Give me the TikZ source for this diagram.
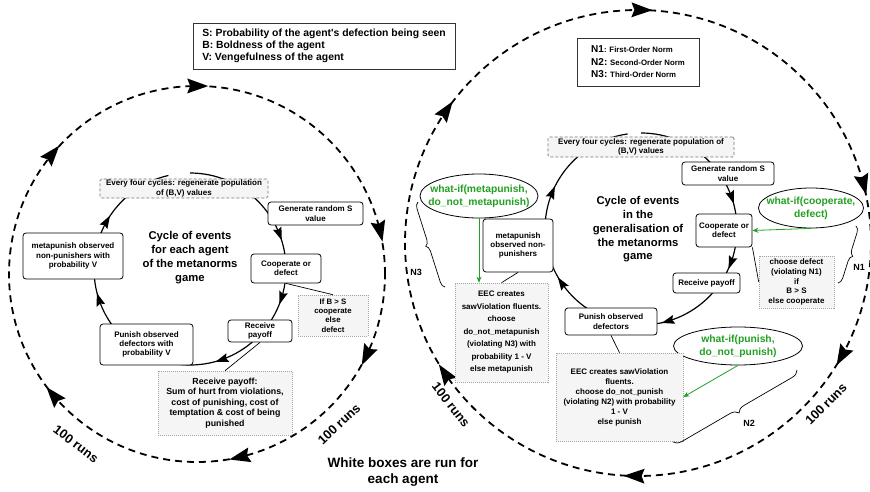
\documentclass[tikz,border=0pt]{standalone}
\usepackage{fontspec}
\setmainfont{Liberation Sans}
\usetikzlibrary{shapes.geometric, arrows.meta, decorations.markings, decorations.pathreplacing}

\definecolor{wgreen}{RGB}{34,160,34}
\definecolor{boxfill}{RGB}{245,245,245}
\definecolor{dotgray}{RGB}{165,165,165}

\newcommand{\fsz}[2]{\fontsize{#1}{#2}\selectfont}
\newcommand{\bigArrowTip}{\fill[black] (10pt,0pt) -- (-11pt,7.5pt) -- (-8pt,0pt) -- (-11pt,-7.5pt) -- cycle;}
\newcommand{\smallArrowTip}{\fill[black] (6pt,0pt) -- (-7pt,4.5pt) -- (-5pt,0pt) -- (-7pt,-4.5pt) -- cycle;}

\tikzset{
  boxfont/.style={font=\fsz{8}{9.4}\bfseries},
  wbox/.style={draw=black, line width=0.8pt, rounded corners=3pt, fill=white, align=center, inner sep=1pt, boxfont},
  gbox/.style={draw=dotgray, line width=0.6pt, dash pattern=on 1pt off 1pt, fill=boxfill, align=center, inner sep=1pt, boxfont},
  ebox/.style={draw=black!55, line width=0.7pt, dash pattern=on 3pt off 2pt, fill=boxfill, rounded corners=1.5pt, align=center, inner sep=1pt, boxfont},
  wif/.style={ellipse, draw=black, line width=0.8pt, fill=white, inner sep=0pt},
  wiftext/.style={text=wgreen, align=center, inner sep=0pt, font=\fsz{10.3}{12.7}\bfseries},
  legendbox/.style={draw=black!80, line width=0.8pt, fill=white, align=left, inner sep=0pt},
  bigcirc/.style={line width=1.8pt, dash pattern=on 7pt off 5pt},
  cycpath/.style={line width=1.2pt},
  runs/.style={font=\fsz{12.8}{14}\bfseries, inner sep=0pt},
  cycletitle/.style={font=\fsz{11.3}{14}\bfseries, align=center, inner sep=0pt},
  conn/.style={line width=0.7pt},
  garrow/.style={draw=wgreen, line width=0.8pt, -{Stealth[length=6pt,width=5pt]}},
  bracefmt/.style={decorate, decoration={brace, amplitude=#1}, line width=0.7pt},
  bracefmt/.default=6pt,
  nlabel/.style={font=\fsz{9}{10}\bfseries, inner sep=0pt},
}

\begin{document}
\begin{tikzpicture}[x=1pt,y=1pt]
\useasboundingbox (0,0) rectangle (870,-492);

% ---------- big dashed run circles ----------
\draw[bigcirc] (197,-274) circle[radius=188];
\path[decorate, decoration={markings,
  mark=at position 0.001 with {\bigArrowTip},
  mark=at position 0.214 with {\bigArrowTip},
  mark=at position 0.322 with {\bigArrowTip},
  mark=at position 0.464 with {\bigArrowTip},
  mark=at position 0.639 with {\bigArrowTip},
  mark=at position 0.861 with {\bigArrowTip}}]
  (197,-86) arc[start angle=90, delta angle=-360, radius=188];

\draw[bigcirc] (638,-243) circle[radius=233];
\path[decorate, decoration={markings,
  mark=at position 0.003 with {\bigArrowTip},
  mark=at position 0.210 with {\bigArrowTip},
  mark=at position 0.331 with {\bigArrowTip},
  mark=at position 0.503 with {\bigArrowTip},
  mark=at position 0.656 with {\bigArrowTip},
  mark=at position 0.847 with {\bigArrowTip}}]
  (638,-10) arc[start angle=90, delta angle=-360, radius=233];

% ---------- inner cycles ----------
\draw[cycpath] (190,-173) arc[start angle=90, delta angle=-347, radius=96];
\path[decorate, decoration={markings,
  mark=at position 0.199 with {\smallArrowTip},
  mark=at position 0.311 with {\smallArrowTip},
  mark=at position 0.464 with {\smallArrowTip},
  mark=at position 0.726 with {\smallArrowTip},
  mark=at position 0.865 with {\smallArrowTip}}]
  (190,-173) arc[start angle=90, delta angle=-347, radius=96];

\draw[cycpath] (641,-133) arc[start angle=90, delta angle=-352, radius=96];
\path[decorate, decoration={markings,
  mark=at position 0.202 with {\smallArrowTip},
  mark=at position 0.315 with {\smallArrowTip},
  mark=at position 0.466 with {\smallArrowTip},
  mark=at position 0.671 with {\smallArrowTip},
  mark=at position 0.832 with {\smallArrowTip}}]
  (641,-133) arc[start angle=90, delta angle=-352, radius=96];

% ---------- left diagram ----------
\node[legendbox, minimum width=262pt, minimum height=46pt, font=\fsz{10.4}{12}\bfseries] (legS) at (324,-46)
  {S: Probability of the agent\textquotesingle s defection being seen\\B: Boldness of the agent\\V: Vengefulness of the agent};

\node[ebox, minimum width=168pt, minimum height=17pt] (everyL) at (184,-188.5) {Every four cycles: regenerate population\\of (B,V) values};
\node[wbox, minimum width=95pt, minimum height=23pt] (genL) at (315.5,-213.5) {Generate random S\\value};
\node[wbox, minimum width=70pt, minimum height=29pt] (coopL) at (286,-268.5) {Cooperate or\\defect};
\node[gbox, minimum width=70pt, minimum height=41pt, font=\fsz{7.8}{9.2}\bfseries] (ifL) at (333,-315.5) {If B > S\\cooperate\\else\\defect};
\node[wbox, minimum width=64pt, minimum height=22pt] (recL) at (260,-331) {Receive\\payoff};
\node[wbox, minimum width=93pt, minimum height=41pt] (punL) at (146.5,-344.5) {Punish observed\\defectors with\\probability V};
\node[wbox, minimum width=100pt, minimum height=46pt] (metaL) at (73,-256) {metapunish observed\\non-punishers with\\probability V};
\node[gbox, minimum width=134pt, minimum height=64pt, font=\fsz{8.8}{10.5}\bfseries] (payL) at (225,-403)
  {Receive payoff:\\Sum of hurt from violations,\\cost of punishing, cost of\\temptation \& cost of being\\punished};
\node[cycletitle] (titL) at (190,-258) {Cycle of events\\for each agent\\of the metanorms\\game};

\draw[conn] (coopL.south) -- (ifL.north);
\draw[conn] (recL.south) -- (payL.north);

% ---------- right diagram ----------
\node[legendbox, minimum width=122pt, minimum height=48pt, font=\fsz{7.8}{12.5}\bfseries] (legN) at (638,-62)
  {{\fsz{10}{12.5}N1}: First-Order Norm\\{\fsz{10}{12.5}N2:} Second-Order Norm\\{\fsz{10}{12.5}N3:} Third-Order Norm};

\node[ebox, minimum width=186pt, minimum height=20pt] (everyR) at (641,-147) {Every four cycles: regenerate population of\\(B,V) values};
\node[wbox, minimum width=92pt, minimum height=23pt] (genR) at (728,-173.5) {Generate random S\\value};
\node[wbox, minimum width=56pt, minimum height=33pt] (coopR) at (724,-230.5) {Cooperate or\\defect};
\node[wif, minimum width=105pt, minimum height=40pt] (wcoop) at (811,-208) {};
\node[wiftext] (wcoopt) at (wcoop) {what-if(cooperate,\\defect)};
\node[gbox, minimum width=75pt, minimum height=52pt, font=\fsz{8}{9.7}\bfseries] (chdef) at (796.5,-282) {choose defect\\(violating N1)\\if\\B > S\\else cooperate};
\node[wbox, minimum width=67pt, minimum height=20pt] (recR) at (706.5,-283) {Receive payoff};
\node[wbox, minimum width=92pt, minimum height=27pt] (punR) at (611,-321.5) {Punish observed\\defectors};
\node[wif, minimum width=129pt, minimum height=38pt] (wpun) at (738,-346) {};
\node[wiftext] (wpunt) at (wpun) {what-if(punish,\\do\_not\_punish)};
\node[gbox, minimum width=127pt, minimum height=88pt, font=\fsz{8}{10}\bfseries] (eec2) at (619.5,-397)
  {EEC creates sawViolation\\fluents.\\choose do\_not\_punish\\(violating N2) with probability\\1 - V\\else punish};
\node[wbox, minimum width=70pt, minimum height=53pt] (metaR) at (518,-245.5) {metapunish\\observed non-\\punishers};
\node[wif, minimum width=118pt, minimum height=44pt] (wmeta) at (479,-196) {};
\node[wiftext] (wmetat) at (wmeta) {what-if(metapunish,\\do\_not\_metapunish)};
\node[gbox, minimum width=93pt, minimum height=99pt, font=\fsz{8}{12.5}\bfseries] (eec3) at (501.5,-332.5)
  {EEC creates\\sawViolation fluents.\\choose\\do\_not\_metapunish\\(violating N3) with\\probability 1 - V\\else metapunish};
\node[cycletitle, font=\fsz{11.3}{13.75}\bfseries] (titR) at (638,-229.5) {Cycle of events\\in the\\generalisation of\\the metanorms\\game};

\draw[conn] (coopR.south east) -- (chdef.west);
\draw[conn] (punR.south) -- (eec2.north);
\draw[conn] (metaR.south) -- (eec3.north);

\draw[garrow] (wcoop.south) -- (coopR.east);
\draw[garrow] (wpun.south) -- (eec2.east);
\draw[garrow] (wmeta.south) -- (wmeta.south |- eec3.north);

% braces
\coordinate (n1a) at (856,-226);
\coordinate (n1b) at (838,-283);
\draw[bracefmt] (n1a) -- (n1b);
\node[nlabel] (n1) at (859,-267) {N1};

\coordinate (n2a) at (797,-370);
\coordinate (n2b) at (673,-442);
\draw[bracefmt=8pt] (n2a) -- (n2b);
\node[nlabel] (n2) at (749,-423) {N2};

\coordinate (n3a) at (445,-287);
\coordinate (n3b) at (418,-202);
\draw[bracefmt] (n3a) -- (n3b);
\node[nlabel] (n3) at (416,-272) {N3};

% ---------- run labels ----------
\node[runs, rotate=-37] (r1) at (76,-444) {100 runs};
\node[runs, rotate=43] (r2) at (339,-424) {100 runs};
\node[runs, rotate=-52] (r3) at (451,-405) {100 runs};
\node[runs, rotate=45] (r4) at (826,-404) {100 runs};

\node[font=\fsz{13.5}{15.5}\bfseries, align=center, inner sep=0pt] (white) at (403,-472) {White boxes are run for\\each agent};
\end{tikzpicture}
\end{document}
